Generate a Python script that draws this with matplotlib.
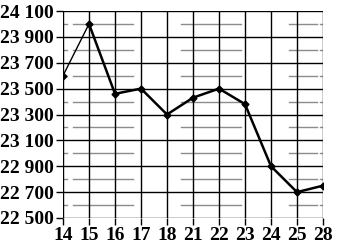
import matplotlib
matplotlib.use("Agg")
import matplotlib.pyplot as plt
import numpy as np

days = ["14", "15", "16", "17", "18", "21", "22", "23", "24", "25", "28"]
prices = [23600, 24000, 23460, 23500, 23300, 23430, 23500, 23380, 22900, 22700, 22750]
major_ticks = [22500, 22700, 22900, 23100, 23300, 23500, 23700, 23900, 24100]
minor_lines = [22600, 22800, 23000, 23200, 23400, 23600, 23800, 24000]
# pieces of the grey in-between lines, as axes fractions
grey_spans = [(0.0, 0.015), (0.038, 0.27), (0.454, 0.685), (0.87, 0.977), (0.99, 1.0)]

plt.rcParams["font.family"] = ["Liberation Serif", "DejaVu Serif"]
plt.rcParams["font.weight"] = "bold"

fig = plt.figure(figsize=(3.37, 2.48), dpi=100)
ax = fig.add_axes([63 / 337, 30 / 248, 260 / 337, 207 / 248])

x = np.arange(len(days))
ax.set_xlim(x[0], x[-1])
ax.set_ylim(22500, 24100)

for y in minor_lines:
    for a, b in grey_spans:
        ax.axhline(y, a, b, color="#8c8c8c", lw=1.0, zorder=1)
for y in major_ticks:
    ax.axhline(y, color="black", lw=1.0, zorder=1)
for xi in x:
    ax.axvline(xi, color="black", lw=1.0, zorder=1)

ax.plot(x[:2], prices[:2], color="black", lw=1.0, zorder=3)
ax.plot(x[1:], prices[1:], color="black", lw=1.8, zorder=3)
ax.plot(x, prices, ls="none", marker="D", ms=3.5, color="black", zorder=4)

ax.set_xticks(x)
ax.set_xticklabels(days)
ax.set_yticks(major_ticks)
ax.set_yticklabels([f"{v // 1000} {v % 1000:03d}" for v in major_ticks])
ax.tick_params(axis="both", direction="out", length=5, width=1, color="black",
               labelsize=14, pad=1.5)
for s in ax.spines.values():
    s.set_visible(False)

fig.savefig("out.png", dpi=100)
